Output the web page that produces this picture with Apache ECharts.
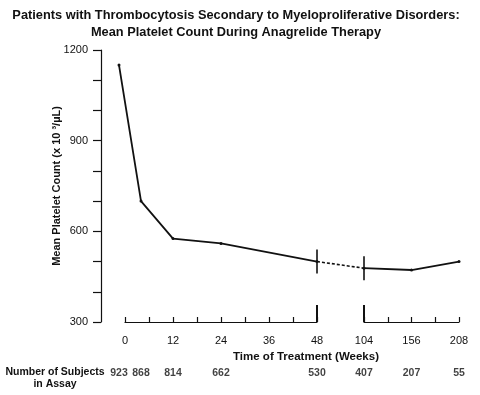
<!DOCTYPE html>
<html><head><meta charset="utf-8">
<script src="https://cdn.jsdelivr.net/npm/echarts@6/dist/echarts.min.js"></script>
<style>html,body{margin:0;padding:0;background:#fff}#c{width:480px;height:395px}</style>
</head><body><div id="c"></div>
<script>
// Data
var weeks = [-1.5, 4, 12, 24, 48, 104, 156, 208];
var platelets = [1150, 700, 576, 560, 500, 478, 472, 500];
var subjects = [923, 868, 814, 662, 530, 407, 207, 55];
var yTicks = [300, 600, 900, 1200];
var xTicksA = [0, 12, 24, 36, 48];
var xTicksB = [104, 156, 208];
var breakStart = 48, breakEnd = 104;

var segA = [], segB = [], segDash = [], subjA = [], subjB = [];
weeks.forEach(function (w, i) {
  if (w <= breakStart) { segA.push([w, platelets[i]]); subjA.push([w, yTicks[0], subjects[i]]); }
  if (w >= breakEnd) { segB.push([w, platelets[i]]); subjB.push([w, yTicks[0], subjects[i]]); }
  if (w === breakStart || w === breakEnd) segDash.push([w, platelets[i]]);
});

var FR = '"Liberation Sans",Arial,sans-serif';
var black = '#111';
var ymin = yTicks[0], ymax = yTicks[yTicks.length - 1];

function hiddenY(gi) {
  return { gridIndex: gi, type: 'value', min: ymin, max: ymax, show: false };
}
var subjLabel = {
  show: true, position: 'inside', offset: [0, 51],
  formatter: function (p) { return p.value[2]; },
  color: black, fontFamily: FR, fontWeight: 'bold', fontSize: 10.5
};
var tickStyle = { color: black, width: 1.2 };

var chart = echarts.init(document.getElementById('c'), null, { renderer: 'canvas' });
chart.setOption({
  animation: false,
  backgroundColor: '#fff',
  title: {
    text: 'Patients with Thrombocytosis Secondary to Myeloproliferative Disorders:\nMean Platelet Count During Anagrelide Therapy',
    left: 231, top: 2, textAlign: 'center',
    textStyle: { fontFamily: FR, fontWeight: 'bold', fontSize: 12.8, lineHeight: 17, color: black }
  },
  grid: [
    { left: 119, top: 50, width: 198, height: 272 },   // data, first segment (includes baseline)
    { left: 364, top: 50, width: 95, height: 272 },    // data + axis, second segment
    { left: 317, top: 50, width: 47, height: 272 },    // dashed connector across the break
    { left: 125, top: 50, width: 192, height: 272 }    // axis, first segment
  ],
  xAxis: [
    { gridIndex: 0, type: 'value', min: -1.5, max: 48, show: false },
    { gridIndex: 1, type: 'value', min: 104, max: 208, interval: 26, position: 'bottom',
      axisLine: { show: true, onZero: false, lineStyle: tickStyle },
      axisTick: { show: true, inside: true, length: 5, lineStyle: tickStyle },
      axisLabel: { margin: 13, color: black, fontFamily: FR, fontSize: 11,
        formatter: function (v) { return xTicksB.indexOf(v) >= 0 ? String(v) : ''; } },
      splitLine: { show: false } },
    { gridIndex: 2, type: 'value', min: breakStart, max: breakEnd, show: false },
    { gridIndex: 3, type: 'value', min: 0, max: 48, interval: 6, position: 'bottom',
      axisLine: { show: true, onZero: false, lineStyle: tickStyle },
      axisTick: { show: true, inside: true, length: 5, lineStyle: tickStyle },
      axisLabel: { margin: 13, color: black, fontFamily: FR, fontSize: 11,
        formatter: function (v) { return xTicksA.indexOf(v) >= 0 ? String(v) : ''; } },
      splitLine: { show: false } },
    { gridIndex: 3, type: 'value', min: 0, max: 48, position: 'bottom',
      axisLine: { show: false, onZero: false }, axisLabel: { show: false }, splitLine: { show: false },
      axisTick: { show: true, inside: true, length: 17, customValues: [breakStart], lineStyle: { color: black, width: 2 } } },
    { gridIndex: 1, type: 'value', min: 104, max: 208, position: 'bottom',
      axisLine: { show: false, onZero: false }, axisLabel: { show: false }, splitLine: { show: false },
      axisTick: { show: true, inside: true, length: 17, customValues: [breakEnd], lineStyle: { color: black, width: 2 } } }
  ],
  yAxis: [
    { gridIndex: 0, type: 'value', min: ymin, max: ymax, interval: 300, offset: 18,
      axisLine: { show: true, onZero: false, lineStyle: tickStyle },
      axisTick: { show: true, length: 8, lineStyle: tickStyle },
      minorTick: { show: true, splitNumber: 3, length: 8, lineStyle: tickStyle },
      axisLabel: { margin: 13, color: black, fontFamily: FR, fontSize: 11,
        formatter: function (v) { return String(v); } },
      splitLine: { show: false }, minorSplitLine: { show: false } },
    hiddenY(1), hiddenY(2), hiddenY(3)
  ],
  graphic: [
    { type: 'text', x: 57, y: 186, rotation: Math.PI / 2,
      style: { text: 'Mean Platelet Count (x 10 ³/µL)', fill: black, font: 'bold 11px ' + FR, textAlign: 'center', textVerticalAlign: 'middle' } },
    { type: 'text', x: 306, y: 357,
      style: { text: 'Time of Treatment (Weeks)', fill: black, font: 'bold 11.5px ' + FR, textAlign: 'center', textVerticalAlign: 'middle' } },
    { type: 'text', x: 55, y: 366,
      style: { text: 'Number of Subjects\nin Assay', fill: black, font: 'bold 10.5px ' + FR, lineHeight: 12, textAlign: 'center', textVerticalAlign: 'top' } }
  ],
  series: [
    { type: 'line', xAxisIndex: 0, yAxisIndex: 0, data: segA, clip: false,
      symbol: 'circle', symbolSize: 3, showSymbol: true,
      lineStyle: { color: black, width: 1.8 }, itemStyle: { color: black } },
    { type: 'line', xAxisIndex: 1, yAxisIndex: 1, data: segB, clip: false,
      symbol: 'circle', symbolSize: 3, showSymbol: true,
      lineStyle: { color: black, width: 1.8 }, itemStyle: { color: black } },
    { type: 'line', xAxisIndex: 2, yAxisIndex: 2, data: segDash, clip: false,
      symbol: 'none', lineStyle: { color: black, width: 1.6, type: [3, 2] } },
    { type: 'scatter', xAxisIndex: 0, yAxisIndex: 0, data: [segA[segA.length - 1]], clip: false,
      symbol: 'rect', symbolSize: [2, 24], itemStyle: { color: black } },
    { type: 'scatter', xAxisIndex: 1, yAxisIndex: 1, data: [segB[0]], clip: false,
      symbol: 'rect', symbolSize: [2, 24], itemStyle: { color: black } },
    { type: 'scatter', xAxisIndex: 0, yAxisIndex: 0, data: subjA, clip: false,
      symbolSize: 1, itemStyle: { color: 'rgba(0,0,0,0)' }, label: subjLabel },
    { type: 'scatter', xAxisIndex: 1, yAxisIndex: 1, data: subjB, clip: false,
      symbolSize: 1, itemStyle: { color: 'rgba(0,0,0,0)' }, label: subjLabel }
  ]
});
</script></body></html>
